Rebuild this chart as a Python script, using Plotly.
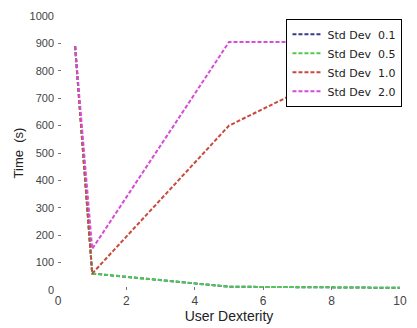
import plotly.graph_objects as go

x_vals = [0.5, 1, 5, 10]
std_01 = [890, 60, 12, 8]
std_05 = [890, 60, 12, 8]
std_10 = [890, 60, 600, 905]
std_20 = [890, 150, 905, 905]
names = ["Std Dev  0.1", "Std Dev  0.5", "Std Dev  1.0", "Std Dev  2.0"]
colors = ["#3a3a8c", "#4ccc4c", "#c84a3c", "#d84ad8"]
series = [std_01, std_05, std_10, std_20]

fig = go.Figure()
for i in range(4):
    fig.add_trace(go.Scatter(x=x_vals, y=series[i], mode="lines", name=names[i],
                             line=dict(color=colors[i], width=2, dash="4px,2px")))

fig.update_layout(
    width=417, height=328,
    margin=dict(l=58, r=10, t=14, b=38),
    paper_bgcolor="white", plot_bgcolor="white",
    font=dict(family="Liberation Sans, Arial, sans-serif", color="#333"),
    showlegend=True,
    legend=dict(x=0.668, y=0.99, xanchor="left", yanchor="top",
                bgcolor="white", bordercolor="black", borderwidth=1,
                font=dict(family="DejaVu Sans, sans-serif", size=11, color="#222"),
                itemwidth=30, tracegroupgap=0),
    xaxis=dict(range=[0, 10], tickvals=[0, 2, 4, 6, 8, 10], showgrid=False,
               zeroline=False, showline=False, ticks="inside", ticklen=3,
               tickcolor="#777", tickfont=dict(size=12, color="#444"),
               ticklabelstandoff=2,
               title=dict(text="User Dexterity", font=dict(size=14, color="#222"), standoff=0)),
    yaxis=dict(range=[0, 1000], tickvals=list(range(0, 1001, 100)), showgrid=False,
               zeroline=False, showline=False, ticks="inside", ticklen=3,
               tickcolor="#777", tickfont=dict(size=11, color="#444"),
               ticklabelstandoff=3,
               title=dict(text="Time  (s)", font=dict(size=13, color="#222"), standoff=2)),
)

fig.write_html("out.html")
